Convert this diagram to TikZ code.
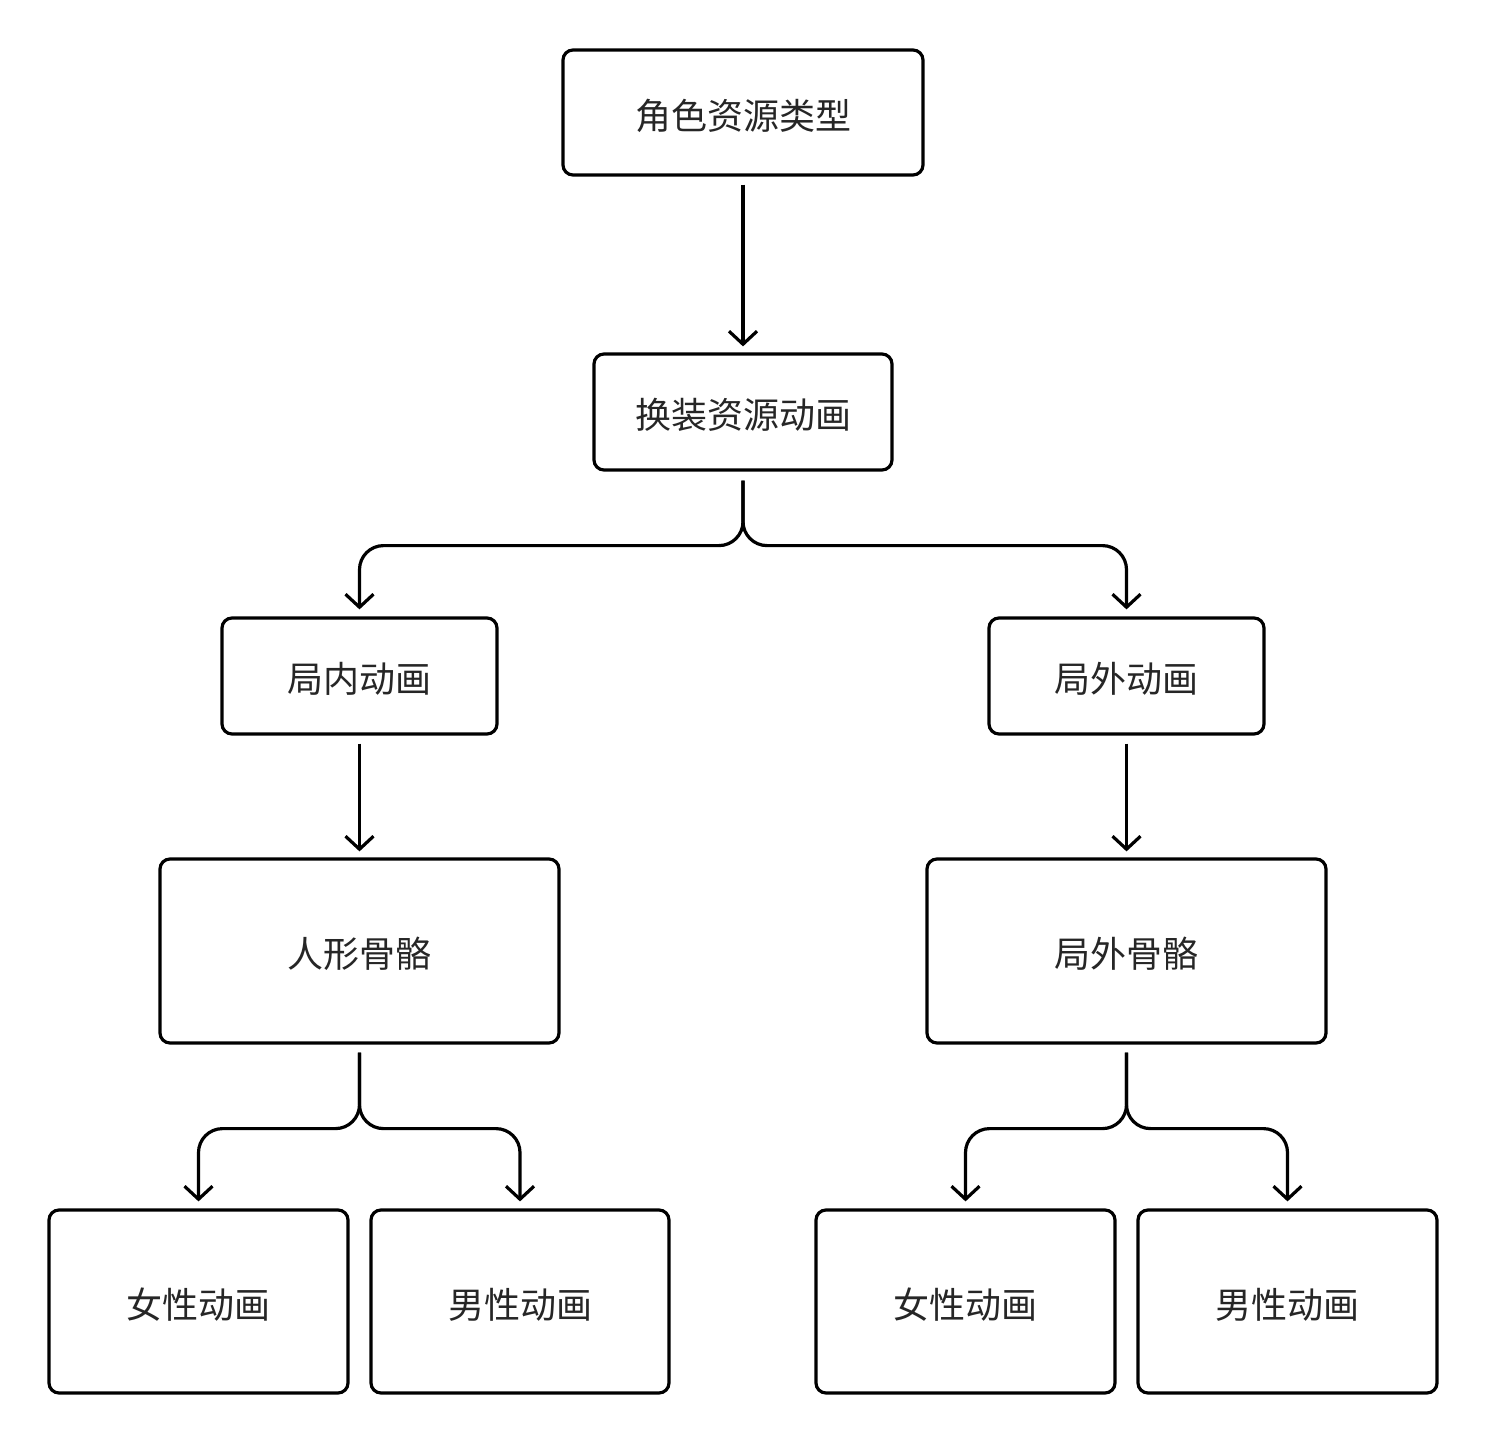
\documentclass[tikz,border=0pt]{standalone}
\usepackage{fontspec}
\setmainfont{Noto Sans CJK SC}
\usetikzlibrary{arrows.meta,calc}
\newcommand\boxtext[1]{\raisebox{-1.5pt}[\height][\depth]{#1}}
\begin{document}
\begin{tikzpicture}[x=0.5pt,y=-0.5pt,
  box/.style={draw=black,line width=1.6pt,rounded corners=5pt,fill=white,inner sep=0pt,
    font=\fontsize{18pt}{21pt}\selectfont,text=black!85},
  arr/.style={line width=1.6pt,-{Straight Barb[length=6.5pt,width=14pt,line width=1.6pt]}},
  branch/.style={arr,rounded corners=12pt}]
\useasboundingbox[fill=white] (0,0) rectangle (1488,1444);
\node[box,minimum width=180pt,minimum height=62.5pt] (n1) at (743,112.5) {\boxtext{角色资源类型}};
\node[box,minimum width=149pt,minimum height=58pt] (n2) at (743,412) {\boxtext{换装资源动画}};
\node[box,minimum width=137.5pt,minimum height=58pt] (n3) at (359.5,676) {\boxtext{局内动画}};
\node[box,minimum width=137.5pt,minimum height=58pt] (n4) at (1126.5,676) {\boxtext{局外动画}};
\node[box,minimum width=199.5pt,minimum height=92pt] (n5) at (359.5,951) {\boxtext{人形骨骼}};
\node[box,minimum width=199.5pt,minimum height=92pt] (n6) at (1126.5,951) {\boxtext{局外骨骼}};
\node[box,minimum width=149.5pt,minimum height=91.5pt] (n7) at (198.5,1301.5) {\boxtext{女性动画}};
\node[box,minimum width=149pt,minimum height=91.5pt] (n8) at (520,1301.5) {\boxtext{男性动画}};
\node[box,minimum width=149.5pt,minimum height=91.5pt] (n9) at (965.5,1301.5) {\boxtext{女性动画}};
\node[box,minimum width=149.5pt,minimum height=91.5pt] (n10) at (1287.5,1301.5) {\boxtext{男性动画}};
\draw[arr] ([yshift=-4pt]n1.south) -- ([yshift=3pt]n2.north);
\draw[branch] ([yshift=-4.5pt]n2.south) -- ++(0,65) -| ([yshift=3.5pt]n3.north);
\draw[branch] ([yshift=-4.5pt]n2.south) -- ++(0,65) -| ([yshift=3.5pt]n4.north);
\draw[arr] ([yshift=-4pt]n3.south) -- ([yshift=3pt]n5.north);
\draw[arr] ([yshift=-4pt]n4.south) -- ([yshift=3pt]n6.north);
\draw[branch] ([yshift=-4pt]n5.south) -- ++(0,76) -| ([yshift=3.5pt]n7.north);
\draw[branch] ([yshift=-4pt]n5.south) -- ++(0,76) -| ([yshift=3.5pt]n8.north);
\draw[branch] ([yshift=-4pt]n6.south) -- ++(0,76) -| ([yshift=3.5pt]n9.north);
\draw[branch] ([yshift=-4pt]n6.south) -- ++(0,76) -| ([yshift=3.5pt]n10.north);
\end{tikzpicture}
\end{document}
